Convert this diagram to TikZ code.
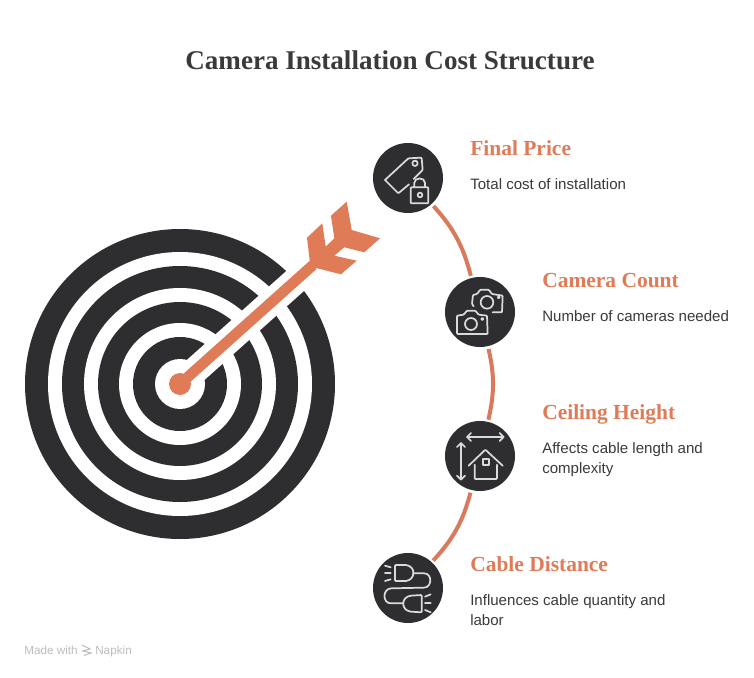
\documentclass[tikz,border=0pt]{standalone}
\usepackage{fontspec}
\setmainfont{Liberation Sans}
\newfontfamily\headfont{Liberation Serif}[BoldFont={Liberation Serif Bold}]
\definecolor{inkdark}{HTML}{2E2E30}
\definecolor{coral}{HTML}{E07B57}
\definecolor{coralline}{HTML}{DA7A5C}
\definecolor{iconline}{HTML}{DADADA}
\definecolor{bodytext}{HTML}{3A3A3A}
\definecolor{footer}{HTML}{BDBDBD}
\tikzset{
  badge/.style={circle,fill=inkdark,minimum size=52.5pt,inner sep=0pt},
  link/.style={draw=coralline,line width=3pt,shorten <=2pt,shorten >=1.5pt},
  glyph/.style={draw=iconline,line width=1.3pt,line join=round,line cap=round,rounded corners=.6pt},
  heading/.style={anchor=base west,inner sep=0pt,text=coral,font=\headfont\bfseries\fontsize{16.1}{18}\selectfont},
  bodyline/.style={anchor=base west,inner sep=0pt,text=bodytext,align=left,font=\fontsize{11.3}{15}\selectfont},
  footnote/.style={anchor=base west,inner sep=0pt,text=footer,font=\fontsize{8.8}{10}\selectfont},
  icon/.style={x=.25pt,y=-.25pt}
}
\begin{document}
\begin{tikzpicture}[x=.75pt,y=-.75pt]
\useasboundingbox[fill=white] (0,0) rectangle (754,678);

% Title
\node[anchor=base,inner sep=0pt,text=bodytext,font=\headfont\bfseries\fontsize{20.3}{24}\selectfont] (title) at (390,69) {Camera Installation Cost Structure};

% Target rings
\coordinate (target) at (180,384);
\coordinate (shafttip) at (313,265);
\fill[inkdark] (target) circle[radius=155];
\fill[white] (target) circle[radius=132];
\fill[inkdark] (target) circle[radius=118];
\fill[white] (target) circle[radius=96];
\fill[inkdark] (target) circle[radius=82];
\fill[white] (target) circle[radius=61];
\fill[inkdark] (target) circle[radius=47];
\fill[white] (target) circle[radius=25];

% Arrow with its clear band through the rings
\draw[white,line width=20pt] (target) -- (shafttip);
\draw[coral,line width=8pt] (target) -- (shafttip);
\fill[coral] (target) circle[radius=11];
\fill[coral] (307,237.7) -- (322.3,223.3) -- (325.7,246.7) -- (334.3,238.3) -- (331,215.7)
  -- (346.7,201.7) -- (351.7,230) -- (380,238.3) -- (364.3,252.3) -- (344.3,247.3)
  -- (334.3,255.7) -- (356.7,260.7) -- (341,274.3) -- (315,267.7) -- (310,263) -- cycle;

% Step badges
\node[badge] (price) at (408,178) {};
\node[badge] (count) at (480,312) {};
\node[badge] (height) at (480,456) {};
\node[badge] (distance) at (408,588) {};

% Curved connectors between the badges
\draw[link] (price) to[bend left=14] (count);
\draw[link] (count) to[bend left=13] (height);
\draw[link] (height) to[bend left=14] (distance);

% Price tag and padlock
\begin{scope}[shift={(375,145)},icon]
  \draw[glyph] (30,105) -- (100,40) -- (140,38) -- (143,75) -- (116,102);
  \draw[glyph] (30,105) -- (70,145) -- (102,118);
  \draw[glyph] (120,55) circle[radius=8];
  \draw[glyph] (107,127) rectangle (160,175);
  \draw[glyph] (118,127) -- (118,116) .. controls (118,96) and (150,96) .. (150,116) -- (150,127);
  \draw[glyph] (135,150) circle[radius=7];
\end{scope}

% Two cameras
\begin{scope}[shift={(447,279)},icon]
  \draw[glyph] (137,100) -- (165,100) -- (167,50) -- (135,45) -- (125,32) -- (100,32) -- (90,45) -- (78,48) -- (75,75) -- (80,82);
  \draw[glyph] (120,70) circle[radius=19];
  \draw[glyph] (155,55) circle[radius=3];
  \draw[glyph] (30,165) -- (30,110) -- (50,107) -- (60,95) -- (85,95) -- (95,107) -- (120,110) -- (122,165) -- cycle;
  \draw[glyph] (72,135) circle[radius=18];
  \draw[glyph] (106,120) circle[radius=3];
\end{scope}

% House with width and height arrows
\begin{scope}[shift={(447,423)},icon]
  \draw[glyph] (60,42) -- (170,42);
  \draw[glyph] (72,30) -- (60,42) -- (72,54);
  \draw[glyph] (158,30) -- (170,42) -- (158,54);
  \draw[glyph] (42,60) -- (42,170);
  \draw[glyph] (30,72) -- (42,60) -- (54,72);
  \draw[glyph] (30,158) -- (42,170) -- (54,158);
  \draw[glyph] (65,128) -- (115,80) -- (167,128);
  \draw[glyph] (83,125) -- (83,168) -- (150,168) -- (150,125);
  \draw[glyph,rounded corners=0pt] (107,108) rectangle (125,126);
\end{scope}

% Two plugs joined by a cable
\begin{scope}[shift={(375,555)},icon]
  \draw[glyph] (60,30) -- (92,30) .. controls (106,32) and (115,42) .. (115,53) .. controls (115,66) and (106,76) .. (92,78) -- (60,78) -- cycle;
  \draw[glyph] (115,55) -- (145,55) .. controls (172,55) and (172,97) .. (145,98) -- (50,100) .. controls (22,102) and (22,145) .. (50,145) -- (85,145);
  \draw[glyph] (140,120) -- (108,122) .. controls (94,124) and (85,134) .. (85,146) .. controls (85,158) and (94,168) .. (108,170) -- (140,172) -- cycle;
  \draw[glyph] (30,32) -- (47,37);
  \draw[glyph] (30,55) -- (47,55);
  \draw[glyph] (30,78) -- (47,73);
  \draw[glyph] (150,125) -- (167,118);
  \draw[glyph] (150,145) -- (167,145);
  \draw[glyph] (150,165) -- (167,172);
\end{scope}

% Labels
\node[heading] (priceT) at (470,155) {Final Price};
\node[bodyline] (priceB) at (470,189) {Total cost of installation};
\node[heading] (countT) at (542,287) {Camera Count};
\node[bodyline] (countB) at (542,321) {Number of cameras needed};
\node[heading] (heightT) at (542,419) {Ceiling Height};
\node[bodyline] (heightB) at (542,473) {Affects cable length and\\complexity};
\node[heading] (distanceT) at (470,571) {Cable Distance};
\node[bodyline] (distanceB) at (470,625) {Influences cable quantity and\\labor};

% Footer mark
\node[footnote] (made) at (24,654) {Made with};
\node[footnote] (napkin) at (95,654) {Napkin};
\draw[footer,line width=.8pt] (82,645) -- (90,649) -- (83,651) -- (91,653) -- (84,655.5);
\end{tikzpicture}
\end{document}
